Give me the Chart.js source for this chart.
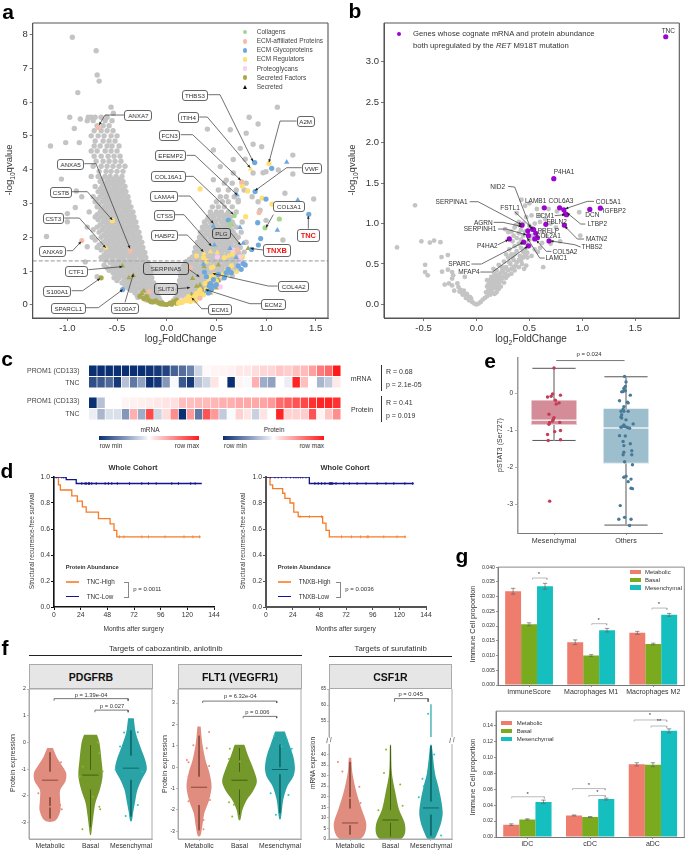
<!DOCTYPE html>
<html lang="en">
<head>
<meta charset="utf-8">
<title>Figure</title>
<script src="https://cdn.jsdelivr.net/npm/chart.js@4/dist/chart.umd.js"></script>
<style>
    html, body { margin: 0; padding: 0; background: #fff; }
    #page { position: relative; width: 685px; height: 851px; overflow: hidden; font-family: "Liberation Sans", Arial, sans-serif; color: #333; }
    #page canvas { position: absolute; }
    .t { position: absolute; white-space: nowrap; line-height: 1; }
    .box { position: absolute; display: flex; align-items: center; justify-content: center; box-sizing: border-box; border: 1px solid #666; border-radius: 3px; background: #fff; font-size: 6.2px; color: #333; }
</style>
</head>
<body>
<div id="page"></div>
<script>
// panel a - gray proteins, each row is [y, x, x, ...]
const grayLeftRows = [
    [.08,-.05,-.1,-.15],[.22,-.08,-.13,-.18,-.24,-.29],[.36,-.1,-.15,-.21,-.26,-.32],[.5,-.12,-.17,-.23,-.28,-.34,-.39],
    [.65,-.13,-.19,-.24,-.3,-.35,-.41,-.45],[.8,-.15,-.2,-.26,-.31,-.37,-.42,-.48,-.53],[.95,-.16,-.22,-.27,-.33,-.38,-.44,-.49,-.54],
    [1.1,-.17,-.23,-.28,-.34,-.39,-.45,-.5,-.55,-.6],[1.25,-.19,-.24,-.3,-.35,-.41,-.46,-.52,-.57],[1.4,-.21,-.26,-.32,-.37,-.43,-.48,-.54,-.6,-.66],
    [1.55,-.22,-.28,-.33,-.39,-.44,-.5,-.55,-.61],[1.7,-.24,-.29,-.35,-.4,-.46,-.51,-.57,-.63,-.7],[1.85,-.25,-.31,-.36,-.42,-.47,-.53,-.58,-.64],
    [2,-.27,-.32,-.38,-.43,-.49,-.54,-.6,-.66,-.75],[2.15,-.28,-.34,-.39,-.45,-.5,-.56,-.61,-.68],[2.3,-.3,-.35,-.41,-.46,-.52,-.57,-.63,-.7,-.8],
    [2.45,-.31,-.37,-.42,-.48,-.53,-.59,-.64],[2.6,-.33,-.38,-.44,-.49,-.55,-.6,-.66,-.72],[2.75,-.34,-.4,-.45,-.51,-.56,-.62,-.67,-.78],
    [2.9,-.36,-.41,-.47,-.52,-.58,-.63,-.7],[3.05,-.38,-.43,-.49,-.54,-.6,-.65,-.72],[3.2,-.39,-.45,-.5,-.56,-.61,-.67,-.74],
    [3.35,-.41,-.46,-.52,-.57,-.63,-.69],[3.5,-.42,-.48,-.53,-.59,-.65,-.72],[3.65,-.44,-.49,-.55,-.6,-.67],[3.8,-.45,-.51,-.57,-.62,-.69,-.76],
    [3.95,-.44,-.5,-.56,-.61,-.68],[4.1,-.42,-.48,-.54,-.6,-.66,-.74],[4.25,-.46,-.52,-.58,-.64,-.71],[4.4,-.47,-.53,-.59,-.66,-.73],
    [4.55,-.5,-.56,-.62,-.7,-.76],[4.7,-.48,-.55,-.6,-.67,-.73],[4.85,-.52,-.58,-.64,-.72],[5,-.5,-.56,-.63,-.69,-.76],
    [5.15,-.54,-.6,-.66,-.73],[5.3,-.58,-.64,-.7],[5.45,-.55,-.62,-.74,-.8],[5.55,-.6,-.66,-.72,-.76],
    [.15,-.07,-.12,-.17,-.21],[.29,-.1,-.15,-.2,-.25,-.3],[.43,-.14,-.2,-.25,-.31,-.36],[.57,-.15,-.21,-.26,-.32,-.37,-.42],[.72,-.16,-.22,-.27,-.33,-.38,-.43,-.5],
    [.87,-.18,-.23,-.29,-.34,-.4,-.45,-.51],[1.02,-.19,-.25,-.3,-.36,-.41,-.47,-.52,-.58],[1.17,-.2,-.26,-.31,-.37,-.42,-.48,-.53,-.63],[1.32,-.22,-.27,-.33,-.38,-.44,-.49,-.55,-.62],
    [1.47,-.24,-.29,-.35,-.4,-.46,-.51,-.57,-.63],[1.62,-.25,-.31,-.36,-.42,-.47,-.53,-.58,-.66],[1.77,-.27,-.32,-.38,-.43,-.49,-.54,-.6,-.68],[1.92,-.28,-.34,-.39,-.45,-.5,-.56,-.61,-.72],
    [2.07,-.3,-.35,-.41,-.46,-.52,-.57,-.63],[2.22,-.31,-.37,-.42,-.48,-.53,-.59,-.65,-.74],[2.37,-.33,-.38,-.44,-.49,-.55,-.6,-.67],[2.52,-.34,-.4,-.45,-.51,-.56,-.62,-.69],
    [2.67,-.36,-.41,-.47,-.52,-.58,-.63,-.7],[2.82,-.38,-.43,-.49,-.54,-.6,-.66],[2.97,-.39,-.45,-.5,-.56,-.61,-.68],[3.12,-.41,-.47,-.52,-.58,-.63,-.7],[3.27,-.43,-.48,-.54,-.59,-.65],
    [3.42,-.44,-.5,-.55,-.61,-.67],[3.58,-.46,-.52,-.57,-.63],[3.72,-.47,-.53,-.59,-.65]
];
const grayRightRows = [
    [.08,.05,.1,.15],[.2,.09,.14,.19,.24],[.32,.11,.16,.21,.26,.31],[.45,.11,.16,.21,.27,.32,.37,.43],[.58,.12,.18,.23,.29,.34,.4,.45],
    [.72,.13,.19,.24,.3,.35,.41,.46,.52],[.86,.14,.19,.25,.3,.36,.41,.47,.52,.58,.66],[1,.14,.2,.25,.31,.36,.42,.47,.53,.58,.64,.7],
    [1.14,.17,.22,.28,.33,.39,.44,.5,.55,.61,.66,.72],[1.28,.2,.25,.31,.36,.42,.47,.53,.58,.64,.69,.75],[1.42,.26,.31,.37,.42,.48,.53,.59,.64,.7,.76],
    [1.56,.28,.33,.39,.44,.5,.55,.61,.66,.72,.78],[1.7,.29,.35,.4,.46,.51,.57,.62,.68,.74],[1.85,.31,.36,.42,.47,.53,.58,.64,.7,.8],
    [2,.33,.38,.44,.49,.55,.6,.66,.72],[2.15,.34,.4,.45,.51,.56,.62,.67,.75],[2.3,.36,.41,.47,.52,.58,.63,.7],[2.45,.38,.44,.49,.55,.6,.66,.76],
    [2.6,.42,.47,.53,.58,.64],[2.75,.44,.5,.55,.62,.7],[2.9,.46,.52,.58,.66],[3.05,.5,.56,.62,.72],[3.2,.54,.6,.68],[3.4,.52,.62,.7,.78],[3.6,.58,.66,.76],
    [.14,.07,.12,.17],[.26,.13,.18,.23,.28],[.38,.14,.19,.24,.29,.34],[.52,.15,.2,.26,.31,.37,.42],[.65,.16,.21,.27,.32,.38,.43,.49],[.79,.16,.22,.27,.33,.38,.44,.49,.55],
    [.93,.17,.22,.28,.33,.39,.44,.5,.55,.61],[1.07,.18,.23,.29,.34,.4,.45,.51,.56,.62,.68],[1.21,.19,.25,.3,.36,.41,.47,.52,.58,.63,.69],[1.35,.23,.28,.34,.39,.45,.5,.56,.61,.67,.73],
    [1.49,.29,.34,.4,.45,.51,.56,.62,.67,.73],[1.63,.31,.36,.42,.47,.53,.58,.64,.7],[1.78,.32,.38,.43,.49,.54,.6,.65,.71],[1.92,.34,.39,.45,.5,.56,.61,.67],[2.07,.36,.41,.47,.52,.58,.63,.69],
    [2.22,.37,.43,.48,.54,.59,.65],[2.37,.39,.45,.5,.56,.61,.67],[2.52,.41,.47,.52,.58,.63],[2.68,.45,.5,.56,.61]
];
const grayStray = [
    [-.95,7.92],[-.71,7.52],[-.7,6.8],[-.68,6.62],[-.895,6.28],[-.56,5.85],[-.537,5.67],[-.976,5.55],[-.87,5.5],[-.79,5.55],[-.93,5.22],[-1.017,4.8],
    [-1.17,4.7],[-.88,4.8],[-1.06,3.72],[-.91,3.37],[-1.21,2.02],[-1,2.7],[-.92,2.88],[-.855,3.2],[-1,2.46],[-.8,1.72],[-.82,1.27],[-.7,.83],
    [1.114,5.85],[.83,5.55],[.92,5.35],[.41,5.2],[.64,5.18],[.8,5.08],[1.27,4.43],[.87,4.75],[.956,4.68],[.74,4.63],[.47,4.58],[1.124,3.99],
    [1.27,3.87],[1.48,3.13],[1.19,3.3],[1,3.94],[.97,3.91],[.79,4.31],[.67,4.3],[.87,3.9],[.6,3.69],[.54,4.09],[.47,3.7],[.67,3.9],[1.17,1.92],
    [1,2.5],[1.17,2.85],[.94,2.8],[.86,3.2],[.92,3.05],[.8,3.6],[.72,3.1]
];
// panel a - coloured proteins
const collagenPts = [[.68,2.64],[1.134,2.54],[.99,2.28],[.64,2.39]];
const affiliatedPts = [[-.69,5.25],[-.855,1.9],[-.37,1.6],[.755,3.64],[.93,2.73],[.24,1.1],[-.178,.39],[.335,.2],[.71,1.62]];
const glycoPts = [[.886,4.21],[1.057,4.04],[.89,3.35],[1.0,3.13],[1.43,2.68],[.916,2.43],[.62,2.51],[.946,1.96],[.923,1.77],[.856,1.64],[.77,1.22],[.79,1.18],[.4,.83],[.44,.63],[.38,.97],[.52,.9],[.6,.95],[-.443,.45],[.47,.55],[.62,1.05],[.42,.35],[.45,.45],[.5,.6],[.47,.75],[.43,.55],[.58,.8],[.65,.95],[.72,1.15],[.75,1.05]];
const glycoTri = [[1.208,4.22],[.71,3.25],[1.32,3.1],[1.114,2.21],[.738,2.29],[.47,2.33],[.638,1.67],[.77,1.82],[.48,1.77],[.37,1.2],[.4,.4],[.7,1.4]];
const regulatorPts = [[.336,3.43],[-.547,2.49],[1.03,4.18],[.76,3.52],[.815,3.37],[.96,3.16],[1.06,2.98],[.795,2.61],[.3,1.45],[.37,1.4],[.134,.09],[.185,.14],[.22,.24],[.25,.19],[.3,.34],[.335,.43],[.386,.63],[.436,.83],[.58,1.4],[.66,1.5],[.28,.25],[.35,.3],[.42,.75],[.12,.05],[.16,.08],[.2,.12],[.26,.16],[.3,.2],[.33,.26],[.29,.12],[.24,.1],[.37,.3],[.4,.45],[.46,.55],[.5,.7],[.55,.85],[.6,1],[.65,1.15],[.48,.9],[.45,1.1],[.4,1.3]];
const regulatorTri = [[-.614,1.69],[.845,4.01],[.376,1.52],[.44,1.57],[.51,1.55],[.67,.98],[.705,.98],[.62,1.44],[.77,1.42],[.47,1.13],[.56,.9]];
const proteoPts = [[.51,1.42],[.74,1.42],[.745,1.27],[.54,.53],[.15,.14],[.436,.43],[.67,1.62],[.2,.18]];
const factorPts = [[-.66,.8],[-.23,.19],[-.185,.14],[-.134,.09],[-.08,.06],[-.03,.02],[0,.01],[.03,.04],[.07,.09],[.1,.14],[-.11,.12],[-.06,.03],[-.16,.1],[-.2,.24],[-.27,.25],[-.05,.05],[.05,.02],[.1,.05]];
const factorTri = [[-.446,1.15],[-.38,.8],[-.336,.87],[-.25,.34],[-.23,.41],[.26,.78],[.3,.55],[.335,.58],[.376,1.13],[.52,1.18],[.52,.73],[.42,.63],[.645,2.39],[.82,1.67],[.2,.1],[.25,.3],[.3,.2],[.36,.45],[.44,.35],[.5,.5]];
const aXTicks = [-1, -.5, 0, .5, 1, 1.5];
const aYTicks = [0, 1, 2, 3, 4, 5, 6, 7, 8];
const qCutoff = 1.3;
const aLegendNames = ["Collagens", "ECM-affiliated Proteins", "ECM Glycoproteins", "ECM Regulators", "Proteoglycans", "Secreted Factors", "Secreted"];
// callouts: text, box centre and size, leader path in page units x3, arrow tip in data units
const aCallouts = [
    ["ANXA7",415,346,85,33,0,[373,346,315,346],-.68,5.32],["THBS3",585,285,80,33,0,[625,285,660,285],.87,4.24],
    ["ITIH4",565,352,65,33,0,[598,352,622,352],.84,4.06],["A2M",917,364,55,33,0,[890,364,840,364],1.03,4.22],
    ["FCN3",509,405,65,33,0,[542,405,578,405],.745,3.69],["EFEMP2",512,467,95,33,0,[560,467,585,467],.71,3.25],
    ["VWF",935,504,60,33,0,[905,504,860,504],.89,3.38],["COL16A1",505,530,105,33,0,[558,530,580,530],.67,2.68],
    ["COL3A1",867,618,95,33,0,[820,645],1,2.29],["LAMA4",493,589,85,33,0,[535,589,570,589],.47,2.41],
    ["CTSS",494,645,62,33,0,[525,645,552,645],.45,1.74],["PLG",664,700,58,34,1,[693,700],.745,1.77],
    ["HABP2",494,706,82,33,0,[535,706,562,706],.37,1.57],["TNC",925,706,70,40,2,[925,687],1.426,2.63],
    ["TNXB",830,751,85,38,2,[790,751],.845,1.67],["ANXA5",212,492,82,33,0,[253,492,288,492],-.37,1.67],
    ["CSTB",183,576,65,33,0,[215,576,262,576],-.547,2.51],["CST3",160,655,65,33,0,[193,655,238,655],-.614,1.69],
    ["ANXA9",158,753,82,33,0,[200,753,218,753],-.862,1.87],["CTF1",229,813,68,33,0,[265,810],-.446,1.13],
    ["S100A1",172,873,85,33,0,[215,873,248,873],-.671,.78],["SPARCL1",205,924,105,33,0,[258,924,295,924],-.443,.45],
    ["S100A7",375,925,85,33,0,[375,908],-.336,.91],["SERPINA5",498,805,140,38,1,[568,810],.329,.83],
    ["SLIT3",498,867,70,34,1,[533,867],.235,.51],["COL4A2",881,859,95,33,0,[833,859,805,859],.463,.93],
    ["ECM2",820,912,75,33,0,[783,912,750,912],.393,.45],["ECM1",660,927,72,33,0,[625,927,605,927],.252,.21]
];

// panel b
const bGray = [
    [0,0],[.02,.01],[-.02,.01],[.04,.03],[-.04,.03],[-.07,.05],[.06,.06],[-.1,.08],[.08,.08],[-.13,.12],[.1,.1],[-.16,.16],[.09,.15],[.12,.14],[.12,.2],[.14,.18],
    [.1,.22],[.14,.24],[.16,.22],[.18,.2],[.12,.28],[.16,.3],[.18,.26],[.2,.24],[.1,.3],[.14,.34],[.2,.32],[.22,.28],[.17,.38],[.24,.34],[.22,.38],[.25,.4],[.19,.42],
    [.27,.38],[.3,.42],[.16,.44],[.24,.46],[.28,.46],[.33,.44],[.36,.42],[.21,.49],[.32,.5],[.37,.48],[.4,.46],[.45,.44],[.26,.53],[.35,.55],[.42,.54],[.3,.58],[.43,.5],
    [.47,.48],[.31,.52],[.28,.62],[.33,.62],[.41,.6],[.48,.58],[.38,.66],[.44,.65],[.31,.68],[.36,.72],[.4,.75],[.46,.68],[.52,.6],[.38,.82],[.42,.8],[.47,.76],[.34,.78],
    [.3,.895],[.27,.93],[.35,.85],[.4,.88],[.44,.85],[.5,.72],[.55,.68],[.58,.65],[.6,.7],[.62,.76],[.7,.75],[.63,.46],[.79,.78],[.98,.85],[.97,1.14],[.6,1.1],[.57,1.18],
    [.68,1.18],[.76,1.15],[.425,1.295],[.38,1.13],[.4,1.02],[.37,.98],[.46,1.22],[.5,1.25],[.47,1.08],[.52,1.1],[.55,1],[.6,1.02],[.65,1.05],[.7,1],[.75,.95],[.62,.9],[.66,.85],
    [.5,.97],[.44,1],[-.58,1.225],[-.75,.705],[-.52,.78],[-.44,.765],[-.4,.79],[-.34,.77],[-.33,.585],[-.27,.61],[-.485,.49],[-.485,.4],[-.46,.36],[-.325,.405],[-.27,.43],
    [-.23,.4],[-.22,.36],[-.23,.32],[-.11,.34],[-.3,.245],[-.23,.235],[-.21,.17],[-.17,.215],[-.15,.18],[-.26,.26],[-.12,.17],[-.06,.09],[-.09,.13],[-.18,.26],
    [.13,.12],[.15,.15],[.17,.13],[.11,.17],[.19,.15],[.21,.19],[.13,.26],[.15,.2],[.17,.25],[.19,.29],[.21,.26],[.23,.22],[.15,.27],[.11,.24],[.13,.3],[.17,.33],[.21,.36],[.19,.36],
    [.23,.31],[.25,.33],[.26,.27],[.28,.33],[.24,.41],[.26,.44],[.3,.36],[.33,.38],[.35,.46],[.38,.52],[.4,.55],[.34,.58],[.36,.62],[.44,.58],[.46,.62],[.42,.7],[.48,.64],[.5,.8],
    [.52,.85],[.46,.9],[.42,.92],[.36,.95],[.33,.9],[-.05,.07],[-.08,.1],[-.11,.13],[-.14,.15]
];
const bPurple = [
    [1.787,3.31],[.73,1.555],[.785,1.195],[.64,1.195],[.825,1.17],[1.07,1.175],[1.17,1.19],[.85,1.11],[.84,1.12],[.655,.99],[.83,.98],[.43,.98],[.485,.91],[.49,.85],
    [.53,.93],[.54,.925],[.56,.88],[.575,.825],[.55,.81],[.685,.785],[.31,.81],[.445,.77],[.49,.725]
];
const bXTicks = [-.5, 0, .5, 1, 1.5];
const bYTicks = [0, .5, 1, 1.5, 2, 2.5, 3];
const bPlainLabels = [["TNC",970,92],["P4HA1",657,517],["LAMB1",572,604],["COL6A3",648,604],["IGFBP2",808,632],["DCN",742,645],["FBLN2",635,666],["PRELP",610,693],["COL2A1",610,707]];
const bCallouts = [
    ["NID2",458,560,[490,560,510,562],.51,.945],["SERPINA1",320,606,[375,606,400,606],.425,.986],["COL5A1",790,605,[748,605,728,605],.84,1.184],
    ["FSTL1",495,623,[510,636],.535,.93],["ECM1",600,648,[630,648],.835,1.11],["LTBP2",757,673,[722,673,708,673],.857,1.13],
    ["AGRN",415,668,[447,668,475,668],.425,.965],["SERPINH1",405,688,[460,688,485,688],.47,.86],["MATN2",755,718,[718,718,698,718],.835,.965],
    ["P4HA2",427,737,[460,735],.3,.8],["THBS2",741,742,[708,742,690,735],.7,.785],["COL5A2",660,755,[620,755,605,755],.567,.79],
    ["LAMC1",634,775,[600,775,585,775],.48,.82],["SPARC",343,793,[380,793,410,793],.44,.767],["MFAP4",372,817,[407,817,443,817],.482,.718]
];

// panel c - row-scaled values, -1 is row min and 1 is row max
const mrnaProm1 = [-1,-1,-1,-1,-1,-1,-1,-.98,-.95,-.9,-.75,-.7,-.6,-.2,.03,.05,.05,.06,.1,.1,.15,.18,.18,.25,.22,.28,.3,.42,.58,.65,1];
const mrnaTnc = [-.85,-.8,-.72,-.95,-.3,-.65,-.45,-1,-.95,-.5,-.03,-.8,-.95,-.3,-.2,.12,0,-1,.05,-.03,.35,-.4,-.45,0,-.08,.95,.28,0,-.35,-.25,.1];
const protProm1 = [-1,-.3,0,0,.05,.06,.07,.08,.1,.12,.14,.28,.28,.3,.3,.32,.35,.35,.38,.38,.38,.4,.45,.65,.7,.75,.8,.9,.95,.95,.9];
const protTnc = [-.08,-.35,-.15,-.15,-.5,.35,-.4,.8,-.2,.15,.5,-1,.45,-.65,.75,.45,-.25,-.02,.2,.12,-.22,.12,0,.95,.2,.2,.22,.75,.05,.25,.5];
const heatRows = ["PROM1 (CD133)", "TNC"];

// panel d - survival curves, month of each step and the level after it
const kmTncHighM = [0,1,4,5.7,16,21,25.5,29,40,50.5,54,56.5,132];
const kmTncHighS = [1,1,.94,.9,.855,.815,.77,.73,.68,.64,.59,.54,.54];
const kmTncLowM = [0,11,20,133];
const kmTncLowS = [1,.98,.95,.95];
const kmTncHighCens = [21,59,63,79,85,100,117,125,131];
const kmTncLowCens = [2,7,8.5,10,25,28,29,31,32,34,38,46,49,52,57,68,79,85,92,106,112,123,127];
const kmTnxbHighM = [0,2,3.6,6,15,17,21.6,25,29,50,51,54,57,126];
const kmTnxbHighS = [1,1,.94,.91,.875,.835,.8,.73,.695,.695,.645,.59,.54,.54];
const kmTnxbLowM = [0,39,133];
const kmTnxbLowS = [1,.95,.95];
const kmTnxbHighCens = [30.7,39,50,68,77,85,91,92,106,118,125];
const kmTnxbLowCens = [4,8,11,14,18,22,25,27,29,31,33,36,44,47,50,53,57,58,59,60,63,70,75,82,90,100,108,115,125,132];
const kmXTicks = [0, 24, 48, 72, 96, 120, 144];
const kmYTicks = [0, .2, .4, .6, .8, 1];

// panel e
const boxNames = ["Mesenchymal", "Others"];
const boxQ = [[-.85, -.18], [-1.9, -.4]];
const boxMedian = [-.72, -.93];
const boxWhisker = [[-1.27, .69], [-3.57, .46]];
const stat3Mes = [[0,.7],[-.02,-.01],[-.04,-.07],[-.09,-.09],[.09,-.04],[.02,-.18],[.03,-.28],[.07,-.25],[-.07,-.56],[0,-.65],[-.01,-.7],[-.06,-.78],[.08,-.78],[-.07,-.83],[-.02,-.74],[.01,-1.03],[.09,-1],[-.09,-1.11],[-.08,-1.27],[.09,-1.25],[-.06,-2.92]];
const stat3Others = [[-.02,.47],[0,.32],[-.01,.2],[-.03,.14],[-.04,.06],[-.06,.05],[-.01,.08],[.06,-.04],[-.09,-.19],[.02,-.23],[.03,-.25],[-.03,-.35],[-.04,-.42],[-.07,-.48],[-.03,-.48],[.03,-.48],[-.06,-.57],[-.07,-.63],[-.06,-.66],[0,-.71],[.1,-.82],[-.03,-.85],[-.05,-.9],[-.07,-.91],[-.01,-.9],[.02,-.92],[.05,-.94],[-.09,-1.14],[-.01,-1.15],[-.04,-1.3],[-.03,-1.41],[.06,-1.36],[-.03,-1.59],[.08,-1.55],[.08,-1.66],[-.04,-1.66],[-.02,-1.85],[.09,-1.93],[0,-2.24],[-.03,-2.27],[.07,-2.32],[.03,-2.39],[.07,-2.57],[.09,-2.58],[-.08,-3.04],[-.02,-3.36],[-.1,-3.41],[.07,-3.41],[.05,-3.58]];
const eYTicks = [-3, -2, -1, 0];

// panel f - violin outlines: expression level and half width
const groups = ["Metabolic", "Basal", "Mesenchymal"];
const pdgfrbY = [[-.21,-.53,-.9,-1.15,-1.46,-1.78,-2.15,-2.53,-2.84,-2.96],[.29,0,-.63,-1.25,-1.77,-2.27,-2.77,-3.4,-3.46],[.91,.35,-.15,-.65,-1.02,-1.4,-1.77,-2.15,-2.65,-2.94]];
const pdgfrbW = [[.07,.16,.31,.4,.38,.25,.25,.26,.18,.07],[.16,.22,.27,.3,.23,.12,.07,.02,.01],[.07,.12,.23,.35,.39,.26,.16,.11,.05,.02]];
const pdgfrbMedian = [-1.41, -1.22, -.96];
const pdgfrbInner = [[-.37,-1.09,-2.05,-2.84],[-.1,-1.02,-1.77,-3.15],[.45,-.49,-1.4,-2.77]];
const pdgfrbDots = [[[.27,-.74],[-.29,-1.9],[-.23,-2.53],[.29,-2.5],[.25,-2.34],[0,-2.4],[-.12,-.9],[.16,-1.27]],[[-.2,-3.25],[.18,0],[.22,-.4],[.3,-1.09],[.22,-2.4],[.24,-2.5],[.06,-2.03],[-.19,-.9],[-.27,-1.27]],[[.17,.38],[-.17,.37],[-.27,-.15],[-.13,-2.75],[.17,-2.34],[.28,-1.09],[-.38,-1.02]]];
const flt1Y = [[1.9,1.12,.34,-.28,-.9,-1.53,-2.16,-2.78,-3.22],[1.05,.5,-.12,-.67,-1.14,-1.53,-2,-2.47],[1.67,1.12,.5,-.05,-.44,-.9,-1.53,-2.42]];
const flt1W = [[.04,.08,.16,.26,.31,.25,.13,.08,.03],[.12,.22,.35,.43,.33,.18,.07,.02],[.12,.22,.33,.37,.33,.18,.08,.02]];
const flt1Median = [-.94, -.61, -.11];
const flt1Inner = [[1.47,-.44,-1.77,-2.95],[.89,-.2,-1.06,-2.22],[1.05,0,-.33,-2.15]];
const flt1Dots = [[[.25,1.64],[-.14,1.02],[.19,.89],[-.3,.34],[-.26,.23],[.25,.06],[-.26,-.44],[-.26,-1.6],[.27,-1.53],[.11,-2.47],[.11,-2.9]],[[-.24,.86],[-.26,.38],[.01,.27],[-.26,-1.64],[-.14,-1.76],[-.18,-2.31]],[[-.14,1.47],[.18,1.28],[.29,.86],[-.23,-1.22],[.21,-1.3],[-.1,-2.23],[.04,.97]]];
const csf1rY = [[38.5,31,22,14,7.6,2.8,0],[44.7,31,22,14,7.6,2.8,0],[44.7,31,25,18.7,12.3,7.6,2.8,0]];
const csf1rW = [[.03,.06,.16,.29,.4,.37,.25],[.015,.035,.12,.21,.35,.36,.26],[.02,.1,.18,.25,.29,.25,.16,.08]];
const csf1rTopY = [60.2, 50];
const csf1rTopW = [.015, .015];
const csf1rMedian = [7.6, 9, 14.7];
const csf1rInner = [[36.5,14.5,6.5,2.1],[43.9,13.9,7.6,1.3],[43.9,17.8,11.5,1.6]];
const csf1rDots = [[[-.3,36.5],[-.19,32],[.23,24.7],[.26,17],[.1,22.6],[0,19.4]],[[-.11,42.4],[-.16,31.3],[.24,25.8],[.3,15.8],[-.3,13.6]],[[.08,40],[-.21,28.5],[-.18,25],[-.3,19.8],[.25,1.6]]];
const csf1rTopDots = [[-.07, 57.3]];
const groupColors = ["#e08d7f", "#75982a", "#2aa3a6"];
const groupDark = ["#87483d", "#455f14", "#0e6668"];
const dotColors = ["#f0877a", "#8cb828", "#1cc8cc"];

// panel g
const gTopCats = ["ImmuneScore", "Macrophages M1", "Macrophages M2"];
const gTopVals = [[.0318,.0145,.0177],[.0206,.01,.0139],[.0335,.0186,.0238]];
const gTopErr = [[.001,.0008,.0005],[.0005,.0003,.0003],[.001,.0006,.0005]];
const gTopTicks = [0,.005,.01,.015,.02,.025,.03,.035,.04];
const gLowCats = ["iDC", "cDC", "aDC"];
const gLowVals = [[.0155,.027,.091],[.022,.025,.0905],[.044,.0475,.133]];
const gLowErr = [[.001,.0006,.002],[.0008,.0007,.0025],[.0022,.0012,.0025]];
const gLowTicks = [0,.02,.04,.06,.08,.1,.12,.14];
const barColors = ["#ee7d6e", "#7aab1f", "#15bfc0"];

Chart.defaults.font.family = '"Liberation Sans", Arial, sans-serif';
Chart.defaults.animation = false;
Chart.defaults.plugins.legend.display = false;
Chart.defaults.plugins.tooltip.enabled = false;

const page = document.getElementById("page");

function text(str, x, y, o) {
    o = o || {};
    var d = document.createElement("div");
    d.className = "t";
    d.innerHTML = str;
    d.style.left = x + "px";
    d.style.top = y + "px";
    d.style.fontSize = (o.size || 7) + "px";
    if (o.bold) d.style.fontWeight = "bold";
    if (o.color) d.style.color = o.color;
    var ax = o.anchor === "l" ? "0" : o.anchor === "r" ? "-100%" : "-50%";
    d.style.transform = "translate(" + ax + ",-50%)" + (o.rot ? " rotate(" + o.rot + "deg)" : "");
    page.appendChild(d);
    return d;
}

function rect(x, y, w, h, css) {
    var d = document.createElement("div");
    d.style.cssText = "position:absolute;left:" + x + "px;top:" + y + "px;width:" + w + "px;height:" + h + "px;" + (css || "");
    page.appendChild(d);
    return d;
}

// linear axis with ticks coming from one of the tick lists above
function axis(min, max, ticks, fmt, o) {
    o = o || {};
    return {
        type: "linear", min: min, max: max, offset: false,
        grid: {offset: false, drawOnChartArea: false, tickLength: o.tick || 3, color: o.color || "#555", lineWidth: o.tickWidth || .8},
        border: {color: o.color || "#555", width: o.width || 1},
        ticks: {font: {size: o.size || 7}, color: o.textColor || "#333", padding: o.pad === undefined ? 1 : o.pad, autoSkip: false, maxRotation: 0,
            callback: function (v) { return fmt(v); }},
        afterBuildTicks: function (s) { s.ticks = ticks.map(function (v) { return {value: v}; }); }
    };
}

// canvas placed so that the plot area lands on the given page rectangle
function plot(x, y, w, h, m, cfg) {
    var c = document.createElement("canvas");
    c.width = Math.round(w + m.l + m.r);
    c.height = Math.round(h + m.t + m.b);
    c.style.left = (x - m.l) + "px";
    c.style.top = (y - m.t) + "px";
    page.appendChild(c);
    var sc = cfg.options.scales;
    if (sc.x && sc.x.display !== false) sc.x.afterFit = function (s) { s.height = m.b; };
    if (sc.y && sc.y.display !== false) sc.y.afterFit = function (s) { s.width = m.l; };
    cfg.options.responsive = false;
    cfg.options.layout = {padding: {top: m.t, right: m.r, left: 0, bottom: 0}};
    return new Chart(c, cfg);
}

function frame(color, width, sides) {
    return {id: "frame", afterDatasetsDraw: function (ch) {
        var a = ch.chartArea, g = ch.ctx, s = sides || "lrtb";
        g.save();
        g.strokeStyle = color;
        g.lineWidth = width;
        g.beginPath();
        if (s.indexOf("l") >= 0) { g.moveTo(a.left, a.top); g.lineTo(a.left, a.bottom); }
        if (s.indexOf("r") >= 0) { g.moveTo(a.right, a.top); g.lineTo(a.right, a.bottom); }
        if (s.indexOf("t") >= 0) { g.moveTo(a.left, a.top); g.lineTo(a.right, a.top); }
        if (s.indexOf("b") >= 0) { g.moveTo(a.left, a.bottom); g.lineTo(a.right, a.bottom); }
        g.stroke();
        g.restore();
    }};
}

// leader lines: path is in page px x3, the tip goes through the scales
function leaders(list, ox, cx, cy) {
    return {id: "leaders", afterDatasetsDraw: function (ch) {
        var g = ch.ctx;
        g.save();
        g.strokeStyle = "#333";
        g.fillStyle = "#222";
        g.lineWidth = .7;
        list.forEach(function (l) {
            var tx = ch.scales.x.getPixelForValue(l.tip[0]), ty = ch.scales.y.getPixelForValue(l.tip[1]);
            var px = [], i;
            for (i = 0; i < l.path.length; i += 2) px.push([ox + l.path[i] / 3 - cx, l.path[i + 1] / 3 - cy]);
            g.beginPath();
            g.moveTo(px[0][0], px[0][1]);
            for (i = 1; i < px.length; i++) g.lineTo(px[i][0], px[i][1]);
            g.lineTo(tx, ty);
            g.stroke();
            var last = px[px.length - 1], ang = Math.atan2(ty - last[1], tx - last[0]);
            g.beginPath();
            g.moveTo(tx, ty);
            g.lineTo(tx - 3.2 * Math.cos(ang - .45), ty - 3.2 * Math.sin(ang - .45));
            g.lineTo(tx - 3.2 * Math.cos(ang + .45), ty - 3.2 * Math.sin(ang + .45));
            g.closePath();
            g.fill();
        });
        g.restore();
    }};
}

function pts(pairs) { return pairs.map(function (p) { return {x: p[0], y: p[1]}; }); }

function rowsToPts(rows) {
    var out = [];
    rows.forEach(function (r) { for (var i = 1; i < r.length; i++) out.push({x: r[i], y: r[0]}); });
    return out;
}

function dots(pairs, color, r, style, order) {
    return {type: "scatter", data: pts(pairs), backgroundColor: color, borderWidth: 0, pointRadius: r, pointStyle: style || "circle", order: order || 0};
}

function seg(x1, y1, x2, y2, color, w, order, extra) {
    return Object.assign({type: "scatter", showLine: true, data: [{x: x1, y: y1}, {x: x2, y: y2}], borderColor: color, borderWidth: w, pointRadius: 0, order: order === undefined ? 0 : order}, extra || {});
}

function bracket(x1, x2, y, drop, color) {
    return [seg(x1, y - drop, x1, y, color, .8), seg(x1, y, x2, y, color, .8), seg(x2, y, x2, y - drop, color, .8)];
}

// panel a
const aColors = ["#a6d58f", "#f6bda6", "#6ea9de", "#ffdf73", "#f9cdf2", "#a9a94c", "#111"];
var grayAll = rowsToPts(grayLeftRows).concat(rowsToPts(grayRightRows), pts(grayStray));
var aLeaders = aCallouts.map(function (c) { return {path: c[6], tip: [c[7], c[8]]}; });
plot(32.7, 23.3, 295.3, 294.7, {l: 32.7, r: 12, t: 8, b: 20}, {
    type: "scatter",
    data: {datasets: [
        seg(-1.349, qCutoff, 1.624, qCutoff, "#aaa", 1.2, 0, {borderDash: [4, 2]}),
        dots(collagenPts, aColors[0], 2.6, "circle", 1),
        dots(affiliatedPts, aColors[1], 2.6, "circle", 1),
        dots(glycoPts, aColors[2], 2.6, "circle", 1),
        dots(glycoTri, aColors[2], 3.1, "triangle", 1),
        dots(regulatorPts, aColors[3], 2.6, "circle", 1),
        dots(regulatorTri, aColors[3], 3.1, "triangle", 1),
        dots(proteoPts, aColors[4], 2.6, "circle", 1),
        dots(factorPts, aColors[5], 2.6, "circle", 1),
        dots(factorTri, aColors[5], 3.1, "triangle", 1),
        {type: "scatter", data: grayAll, backgroundColor: "#c4c4c4", borderWidth: 0, pointRadius: 2.7, order: 5}
    ]},
    options: {scales: {
        x: axis(-1.349, 1.624, aXTicks, function (v) { return v.toFixed(1); }, {size: 9.5, textColor: "#333", pad: 2}),
        y: axis(-.39, 8.34, aYTicks, function (v) { return v; }, {size: 9.5, pad: 2})
    }},
    plugins: [frame("#555", 1.1), leaders(aLeaders, 0, 0, 15.3)]
});
aCallouts.forEach(function (c) {
    var b = document.createElement("div");
    b.className = "box";
    b.textContent = c[0];
    b.style.left = (c[1] - c[3] / 2) / 3 + "px";
    b.style.top = (c[2] - c[4] / 2) / 3 + "px";
    b.style.width = c[3] / 3 + "px";
    b.style.height = c[4] / 3 + "px";
    if (c[5] === 1) { b.style.background = "rgba(190,190,190,.6)"; b.style.borderColor = "#444"; }
    if (c[5] === 2) { b.style.color = "#f01414"; b.style.fontWeight = "bold"; b.style.fontSize = "7.4px"; }
    page.appendChild(b);
});
aLegendNames.forEach(function (n, i) {
    var y = [32, 41.3, 50.3, 59.3, 68.7, 77.7, 87][i];
    if (i === 6) {
        rect(242.5, y - 2, 0, 0, "border-left:2.5px solid transparent;border-right:2.5px solid transparent;border-bottom:4.3px solid #111");
    } else {
        rect(242.6, y - 2.4, 4.8, 4.8, "border-radius:50%;background:" + aColors[i]);
    }
    text(n, 256.7, y, {size: 6.5, anchor: "l", color: "#444"});
});
text("-log<sub style='font-size:70%'>10</sub>qvalue", 10, 170, {size: 9.5, rot: -90});
text("log<sub style='font-size:70%'>2</sub>FoldChange", 180.7, 340, {size: 10});

// panel b
var bLeaders = bCallouts.map(function (c) { return {path: c[3], tip: [c[4], c[5]]}; });
plot(384.3, 23.3, 295, 295, {l: 30, r: 5.7, t: 8, b: 20}, {
    type: "scatter",
    data: {datasets: [
        dots(bPurple, "#9a06cf", 2.6, "circle", 1),
        dots(bGray, "#c4c4c4", 2.4, "circle", 5)
    ]},
    options: {scales: {
        x: axis(-.873, 1.915, bXTicks, function (v) { return v.toFixed(1); }, {size: 9.5, pad: 2}),
        y: axis(-.168, 3.48, bYTicks, function (v) { return v.toFixed(1); }, {size: 9.5, pad: 2})
    }},
    plugins: [frame("#555", 1.1), leaders(bLeaders, 345, 354.3, 15.3)]
});
bPlainLabels.forEach(function (l) { text(l[0], 345 + l[1] / 3, l[2] / 3, {size: 6.5}); });
bCallouts.forEach(function (c) { text(c[0], 345 + c[1] / 3, c[2] / 3, {size: 6.5}); });
rect(397, 32, 4, 4, "border-radius:50%;background:#9a06cf");
text("Genes whose cognate mRNA and protein abundance", 413, 34, {size: 7.7, anchor: "l"});
text("both upregulated by the <i>RET</i> M918T mutation", 413, 46, {size: 7.7, anchor: "l"});
text("-log<sub style='font-size:70%'>10</sub>qvalue", 353, 170, {size: 9.5, rot: -90});
text("log<sub style='font-size:70%'>2</sub>FoldChange", 531, 340, {size: 10});

// panel c
function heatColor(v) {
    var end = v < 0 ? [10, 47, 115] : [255, 26, 26], t = Math.abs(v);
    return "rgb(" + end.map(function (c) { return Math.round(255 + (c - 255) * t); }).join(",") + ")";
}
function heatmap(y, top, bottom) {
    var sets = top.map(function (v, i) {
        return {data: [1, 1], backgroundColor: [heatColor(v), heatColor(bottom[i])], borderColor: "#fff", borderWidth: .8, categoryPercentage: 1, barPercentage: 1};
    });
    plot(89, y, 251.6, 23.4, {l: 0, r: 0, t: 0, b: 0}, {
        type: "bar",
        data: {labels: heatRows, datasets: sets},
        options: {indexAxis: "y", scales: {
            x: {type: "linear", display: false, stacked: true, min: 0, max: top.length},
            y: {type: "category", display: false, stacked: true}
        }}
    });
}
heatmap(365, mrnaProm1, mrnaTnc);
heatmap(396.8, protProm1, protTnc);
[[370.7, 0], [383, 1], [401.3, 0], [414, 1]].forEach(function (r) { text(heatRows[r[1]], 79.5, r[0], {size: 6.9, anchor: "r", color: "#444"}); });
text("mRNA", 361, 377.7, {size: 7});
text("Protein", 362, 409, {size: 7});
rect(381, 364.5, .8, 26.5, "background:#333");
rect(381, 395.7, .8, 26, "background:#333");
text("R = 0.68", 386, 371, {size: 7, anchor: "l"});
text("p = 2.1e-05", 386, 384, {size: 7, anchor: "l"});
text("R = 0.41", 386, 402, {size: 7, anchor: "l"});
text("p = 0.019", 386, 415, {size: 7, anchor: "l"});
var heatGrad = "background:linear-gradient(to right,#0a2f73,#dfe5f0 45%,#fff 50%,#fde0e0 55%,#ff1a1a)";
rect(99.3, 436, 100, 4.2, heatGrad);
rect(223.3, 436, 100.7, 4.2, heatGrad);
text("mRNA", 150, 429.7, {size: 6.5});
text("Protein", 274, 430, {size: 6.5});
text("row min", 99.5, 445.7, {size: 6.5, anchor: "l"});
text("row max", 199.3, 445.7, {size: 6.5, anchor: "r"});
text("row min", 224, 445.7, {size: 6.5, anchor: "l"});
text("row max", 324, 445.7, {size: 6.5, anchor: "r"});

// panel d
function levelAt(ms, ss, m) {
    var lv = ss[0];
    for (var i = 0; i < ms.length; i++) if (ms[i] <= m) lv = ss[i];
    return lv;
}
function kmSets(ms, ss, cens, color) {
    return [
        {type: "scatter", showLine: true, stepped: true, data: ms.map(function (m, i) { return {x: m, y: ss[i]}; }), borderColor: color, borderWidth: 1.3, pointRadius: 0},
        {type: "scatter", data: cens.map(function (m) { return {x: m, y: levelAt(ms, ss, m)}; }), pointStyle: "line", rotation: 90, pointRadius: 1.5, borderColor: color, borderWidth: .8, backgroundColor: color}
    ];
}
function km(x, hm, hs, hc, lm, ls, lc, axisColor, axisW) {
    plot(x, 477, 160, 129.7, {l: 26, r: 14, t: 8, b: 16}, {
        type: "scatter",
        data: {datasets: kmSets(lm, ls, lc, "#14148c").concat(kmSets(hm, hs, hc, "#f57c28"))},
        options: {scales: {
            x: axis(0, 144, kmXTicks, function (v) { return v; }, {size: 6.8, color: axisColor, width: axisW, tick: 3, tickWidth: 1}),
            y: axis(0, 1, kmYTicks, function (v) { return v.toFixed(1); }, {size: 6.8, color: axisColor, width: axisW, tick: 3, tickWidth: 1})
        }}
    });
}
km(54, kmTncHighM, kmTncHighS, kmTncHighCens, kmTncLowM, kmTncLowS, kmTncLowCens, "#111", 1.6);
km(266, kmTnxbHighM, kmTnxbHighS, kmTnxbHighCens, kmTnxbLowM, kmTnxbLowS, kmTnxbLowCens, "#555", 2);
[[54, "TNC", 133, 32, "p = 0.0011"], [266, "TNXB", 345, 243, "p = 0.0036"]].forEach(function (k) {
    var dx = k[0] - 54;
    text("Whole Cohort", k[2], 468, {size: 7.5, bold: true});
    text("Structural recurrence-free survival", k[3], 541, {size: 6.4, rot: -90});
    text("Months after surgery", k[2] + .7, 629, {size: 6.6});
    text("Protein Abundance", 65.7 + dx, 568, {size: 5.8, bold: true, anchor: "l"});
    rect(65.7 + dx, 581.4, 13.6, 1.2, "background:#f9964f");
    rect(65.7 + dx, 596.1, 13.6, 1.2, "background:#14148c");
    text(k[1] + "-High", 86.7 + dx, 582, {size: 6.3, anchor: "l"});
    text(k[1] + "-Low", 86.7 + dx, 596.7, {size: 6.3, anchor: "l"});
    rect(124.3 + dx, 581.7, 4, 14.5, "border:1px solid #888;border-left:none");
    text(k[4], 133.3 + dx, 589.3, {size: 6, anchor: "l"});
});

// panel e - everything sits on one linear x axis, 0 and 1 are the two groups
var eSets = [
    dots(stat3Mes, "#c23c56", 1.7, "circle", 0),
    dots(stat3Others.map(function (p) { return [1 + p[0], p[1]]; }), "#467a99", 1.7, "circle", 0),
    seg(.03, .9, .98, .9, "#666", .9, 1),
    {type: "bar", data: boxQ.map(function (q, i) { return {x: i, y: q}; }), backgroundColor: ["#d48c99", "#9dbfcd"], borderColor: ["#eac9cf", "#d3e3ea"], borderWidth: 1, categoryPercentage: 1, barPercentage: .64, order: 3}
];
boxNames.forEach(function (n, i) {
    eSets.push(seg(i - .32, boxMedian[i], i + .32, boxMedian[i], "rgba(255,255,255,.8)", 1.5, 2));
    eSets.push(seg(i, boxWhisker[i][0], i, boxWhisker[i][1], "#aaa", 2, 4));
    eSets.push(seg(i - .3, boxWhisker[i][0], i + .3, boxWhisker[i][0], "#555", 1, 4));
    eSets.push(seg(i - .3, boxWhisker[i][1], i + .3, boxWhisker[i][1], "#555", 1, 4));
});
plot(518, 358.3, 143.7, 175, {l: 22, r: 6, t: 6, b: 16}, {
    type: "bar",
    data: {datasets: eSets},
    options: {scales: {
        x: axis(-.5, 1.5, [0, 1], function (v) { return boxNames[v]; }, {size: 7.2, color: "#777", tick: 2, pad: 2}),
        y: axis(-3.785, .97, eYTicks, function (v) { return v; }, {size: 6.5, color: "#999", width: 1.5, pad: 2})
    }}
});
text("p = 0.024", 589, 354, {size: 6});
text("pSTAT3 (Ser727)", 499, 445, {size: 7, rot: -90});

// panel f
function violinSets(ys, ws, medians, inner, dotSets) {
    var sets = [];
    ys.forEach(function (yv, g) {
        var right = yv.map(function (v, i) { return {x: g + ws[g][i], y: v}; });
        var left = yv.map(function (v, i) { return {x: g - ws[g][i], y: v}; }).reverse();
        sets.push({type: "scatter", showLine: true, data: right.concat(left), fill: "shape", backgroundColor: groupColors[g], borderWidth: 0, pointRadius: 0, tension: .3, order: 6});
        sets.push(seg(g - .2, medians[g], g + .2, medians[g], groupDark[g], 1, 2));
        sets.push(seg(g, inner[g][0], g, inner[g][1], groupDark[g], .9, 2));
        sets.push(seg(g, inner[g][2], g, inner[g][3], groupDark[g], .9, 2));
        sets.push(dots(dotSets[g].map(function (p) { return [g + p[0], p[1]]; }), dotColors[g], 1, "circle", 1));
    });
    return sets;
}
function fx(min, max) {
    return axis(min, max, [0, 1, 2], function (v) { return groups[v]; }, {size: 6.8, color: "#aaa", pad: 1, tick: 2});
}
var fFrame = frame("#aaa", 1);
plot(29.3, 689.3, 123.4, 149.7, {l: 14, r: 8, t: 5, b: 12}, {
    type: "scatter",
    data: {datasets: violinSets(pdgfrbY, pdgfrbW, pdgfrbMedian, pdgfrbInner, pdgfrbDots).concat(
        bracket(.1, 1.93, 1.64, .08, "#555"), bracket(1.11, 1.93, 1.21, .08, "#555"))},
    options: {scales: {x: fx(-.52, 2.52), y: axis(-3.61, 2, [-3, -2, -1, 0, 1, 2], function (v) { return v; }, {size: 5.2, color: "#aaa", tick: 2})}},
    plugins: [fFrame]
});
plot(178.3, 689.3, 123.4, 149.7, {l: 14, r: 8, t: 5, b: 12}, {
    type: "scatter",
    data: {datasets: violinSets(flt1Y, flt1W, flt1Median, flt1Inner, flt1Dots).concat(
        bracket(.09, 1.92, 3.09, .09, "#555"), bracket(1.09, 1.92, 2.375, .08, "#555"))},
    options: {scales: {x: fx(-.52, 2.52), y: axis(-3.36, 3.656, [-3, -2, -1, 0, 1, 2, 3], function (v) { return v; }, {size: 5.2, color: "#aaa", tick: 2})}},
    plugins: [fFrame]
});
// CSF1R has a broken axis, so two stacked plots
plot(329, 744, 122.7, 95.3, {l: 14, r: 8, t: 5, b: 12}, {
    type: "scatter",
    data: {datasets: violinSets(csf1rY, csf1rW, csf1rMedian, csf1rInner, csf1rDots)},
    options: {scales: {x: fx(-.52, 2.52), y: axis(0, 45, [0, 5, 10, 15, 20, 25, 30, 35, 40], function (v) { return v; }, {size: 4.6, color: "#aaa", tick: 2})}},
    plugins: [frame("#aaa", 1, "lrb")]
});
var csfTop = [];
var csfTopShape = csf1rTopY.map(function (v, i) { return {x: 2 + csf1rTopW[i], y: v}; }).concat(csf1rTopY.map(function (v, i) { return {x: 2 - csf1rTopW[i], y: v}; }).reverse());
csfTop.push({type: "scatter", showLine: true, data: csfTopShape, fill: "shape", backgroundColor: groupColors[2], borderWidth: 0, pointRadius: 0, order: 6});
csfTop.push(dots(csf1rTopDots.map(function (p) { return [2 + p[0], p[1]]; }), dotColors[2], 1, "circle", 1));
plot(329, 689.3, 122.7, 49.7, {l: 14, r: 8, t: 5, b: 2}, {
    type: "scatter",
    data: {datasets: csfTop.concat(bracket(1.1, 1.93, 62, 1, "#555"))},
    options: {scales: {
        x: {type: "linear", display: false, min: -.52, max: 2.52},
        y: axis(50, 65, [55, 60, 65], function (v) { return v; }, {size: 4.6, color: "#aaa", tick: 2})
    }},
    plugins: [frame("#aaa", 1, "lr")]
});
text("/ /", 329, 739.5, {size: 7, color: "#333", rot: -8});
text("/ /", 451.7, 740, {size: 7, color: "#333", rot: -8});
[[29.3, 123.4, "PDGFRB"], [178.3, 123.4, "FLT1 (VEGFR1)"], [329, 122.7, "CSF1R"]].forEach(function (h) {
    rect(h[0], 664.3, h[1], 25, "box-sizing:border-box;background:#e6e6e6;border:1px solid #aaa");
    text(h[2], h[0] + h[1] / 2, 677, {size: 10.5, bold: true, color: "#111"});
});
text("Targets of cabozantinib, anlotinib", 165.7, 648.7, {size: 7.8});
rect(29.3, 655, 272.4, .8, "background:#222");
text("Targets of surufatinib", 390.7, 649.3, {size: 7.8});
rect(329, 655.5, 122.7, .8, "background:#222");
text("Protein expression", 12.3, 762.7, {size: 7, rot: -90});
text("Protein expression", 164, 764, {size: 7, rot: -90});
text("mRNA expression", 312.7, 763, {size: 6.5, rot: -90});
text("p = 1.39e-04", 91, 695.7, {size: 5.8});
text("p = 0.027", 112, 707, {size: 5.8});
text("p = 6.32e-04", 240.3, 697.3, {size: 5.8});
text("p = 0.006", 257.3, 713, {size: 5.8});
text("p = 0.045", 410.7, 695.3, {size: 5.8});

// panel g - one linear x axis as well, categories at 0, 1, 2
function barSets(vals, errs, brackets) {
    var sets = groups.map(function (n, i) {
        return {type: "bar", label: n, data: vals[i].map(function (v, c) { return {x: c, y: v}; }), backgroundColor: barColors[i], categoryPercentage: .77, barPercentage: 1, order: 5};
    });
    var bw = .77 / 3;
    vals.forEach(function (row, i) {
        row.forEach(function (v, c) {
            var cx = c + (i - 1) * bw, d = errs[i][c];
            sets.push(seg(cx, v - d, cx, v + d, "#666", .7, 1));
            sets.push(seg(cx - .035, v - d, cx + .035, v - d, "#666", .7, 1));
            sets.push(seg(cx - .035, v + d, cx + .035, v + d, "#666", .7, 1));
        });
    });
    brackets.forEach(function (b) { sets = sets.concat(bracket(b[0], b[1], b[2], b[3], "#aaa")); });
    return sets;
}
function gChart(x, y, w, h, cats, vals, errs, brackets, ymax, ticks, fmt) {
    plot(x, y, w, h, {l: 24, r: 0.7, t: 2, b: 14}, {
        type: "bar",
        data: {datasets: barSets(vals, errs, brackets)},
        options: {scales: {
            x: axis(-.5, 2.5, [0, 1, 2], function (v) { return cats[v]; }, {size: 7, color: "#777", tick: 2}),
            y: axis(0, ymax, ticks, fmt, {size: 5.2, color: "#777", tick: 2})
        }},
        plugins: [frame("#888", 1, "lrt")]
    });
}
gChart(497.7, 565, 186.6, 120, gTopCats, gTopVals, gTopErr, [[.056, .288, .0363, .0005], [1.01, 1.25, .0208, .0005], [1.98, 2.22, .0261, .0005]], .04, gTopTicks, function (v) { return v.toFixed(3); });
gChart(495.7, 709.3, 188.6, 128.4, gLowCats, gLowVals, gLowErr, [[-.25, .27, .0504, .002], [.72, 1.24, .0607, .002], [.98, 1.24, .052, .002], [1.7, 2.22, .1466, .002], [1.97, 2.22, .139, .002]], .1577, gLowTicks, function (v) { return v.toFixed(2); });
[[539, 573.5, "*"], [598.7, 620, "*"], [659, 604, "*"], [527.7, 794, "*"], [589, 785, "*"], [597.3, 792, "*"], [650, 715.3, "*"], [659, 721, "**"]].forEach(function (s) { text(s[2], s[0], s[1], {size: 6}); });
groups.forEach(function (n, i) {
    rect(630, [569.5, 577.7, 585.3][i], 11, 4.5, "background:" + barColors[i]);
    text(n, 645, [571.7, 579.9, 587.5][i], {size: 6, anchor: "l"});
    rect(501, [720.5, 728.5, 736.7][i], 11, 4.5, "background:" + barColors[i]);
    text(n, 516.7, [722.7, 730.7, 739][i], {size: 6, anchor: "l"});
});
text("Immune Cell proportion", 472.7, 624, {size: 7.4, rot: -90});
text("Immune Cell proportion", 472.7, 777, {size: 7.4, rot: -90});

// panel letters
[["a", 8, 11], ["b", 355, 10], ["c", 7, 358], ["d", 7, 470], ["e", 490, 360], ["f", 5, 647], ["g", 462, 555]].forEach(function (l) {
    text(l[0], l[1], l[2], {size: 21, bold: true, color: "#000"});
});
</script>
</body>
</html>
